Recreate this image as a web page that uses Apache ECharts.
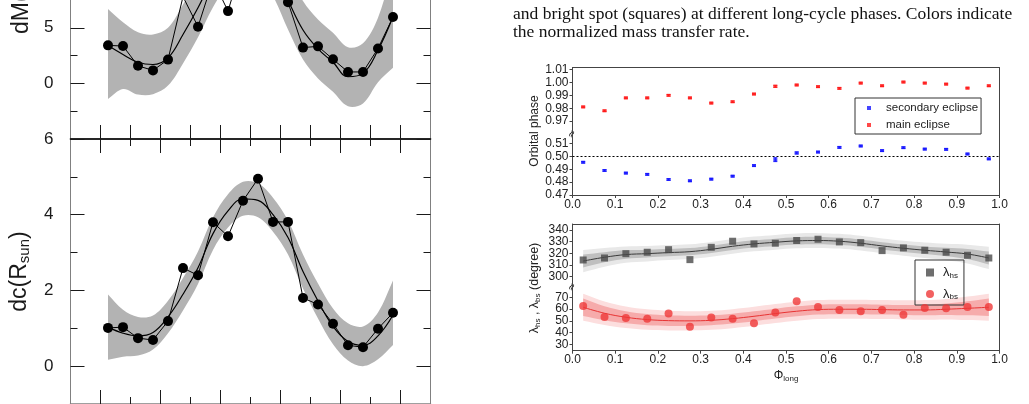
<!DOCTYPE html>
<html>
<head>
<meta charset="utf-8">
<script src="https://cdn.jsdelivr.net/npm/echarts@6/dist/echarts.min.js"></script>
<style>
html, body { margin: 0; padding: 0; background: #fff; }
#main { width: 1029px; height: 404px; }
</style>
</head>
<body>
<div id="main"></div>
<script>
// long-cycle phase bins (shared by all panels)
var phase = [0.025, 0.075, 0.125, 0.175, 0.225, 0.275, 0.325, 0.375, 0.425, 0.475,
             0.525, 0.575, 0.625, 0.675, 0.725, 0.775, 0.825, 0.875, 0.925, 0.975];

// left, upper panel (dM)
var dmPts   = [3.42, 3.36, 1.58, 1.17, 2.14, 7.8, 5.1, 9.3, 6.5, 11.0, 12.5, 10.5, 7.3, 3.22, 3.33, 2.17, 1.03, 1.03, 3.14, 5.97];
var dmFit   = [3.4, 2.6, 1.9, 1.7, 2.3, 4.4, 6.8, 9.5, 11.5, 12.5, 12.5, 10.5, 7.5, 4.8, 3.1, 1.9, 0.6, 0.9, 3.0, 6.0];
var dmUpper = [6.7, 5.5, 4.6, 4.4, 5.0, 7.1, 9.5, 12.2, 14.2, 15.2, 15.2, 13.2, 10.2, 7.4, 5.75, 4.55, 3.25, 3.6, 5.9, 10.5];
var dmLower = [-1.4, -0.5, -1.0, -0.97, -0.2, 1.8, 4.15, 6.85, 8.85, 9.85, 9.85, 7.85, 4.85, 2.15, 0.45, -0.75, -2.05, -1.8, 0.1, 1.4];

// left, lower panel (dc)
var dcPts   = [1.01, 1.03, 0.74, 0.69, 1.19, 2.59, 2.40, 3.80, 3.43, 4.37, 4.95, 3.81, 3.81, 1.80, 1.63, 1.12, 0.55, 0.50, 0.99, 1.41];
var dcFit   = [1.03, 0.87, 0.80, 0.89, 1.30, 1.90, 2.60, 3.50, 4.10, 4.42, 4.38, 4.00, 3.40, 2.50, 1.72, 1.05, 0.65, 0.55, 0.80, 1.35];
var dcUpper = [1.89, 1.49, 1.30, 1.34, 1.73, 2.33, 3.03, 3.93, 4.54, 4.87, 4.83, 4.45, 3.85, 2.95, 2.18, 1.52, 1.13, 1.05, 1.42, 2.26];
var dcLower = [0.17, 0.25, 0.28, 0.44, 0.87, 1.47, 2.17, 3.07, 3.66, 3.97, 3.93, 3.55, 2.95, 2.05, 1.26, 0.58, 0.15, 0.00, 0.18, 0.56];

var leftMajorX = [0, 0.2, 0.4, 0.6, 0.8, 1.0];
var leftMinorX = [0.1, 0.3, 0.5, 0.7, 0.9];
var dmMajor = [0, 5], dmMinor = [-2.5, 2.5];
var dcMajor = [0, 2, 4, 6], dcMinor = [1, 3, 5];

// right, orbital phase of eclipses
var mainEcl = [0.981, 0.978, 0.988, 0.988, 0.990, 0.988, 0.984, 0.985, 0.991, 0.997, 0.998, 0.9967, 0.9954, 0.9995, 0.9974, 1.0003, 0.9995, 0.9987, 0.9956, 0.9974];
var mainErr = [0.0006, 0.0006, 0.0006, 0.0006, 0.0006, 0.0006, 0.0006, 0.0006, 0.0006, 0.0008, 0.0006, 0.0006, 0.0006, 0.0006, 0.0006, 0.0006, 0.0006, 0.0006, 0.0006, 0.0006];
var secEcl  = [0.4954, 0.489, 0.487, 0.486, 0.482, 0.481, 0.4823, 0.4846, 0.4928, 0.4974, 0.5026, 0.5033, 0.5069, 0.508, 0.5044, 0.5067, 0.5056, 0.5054, 0.5018, 0.498];
var secErr  = [0.0006, 0.0006, 0.0006, 0.0006, 0.0006, 0.0006, 0.0006, 0.0006, 0.0006, 0.0015, 0.0008, 0.0006, 0.0006, 0.0006, 0.0006, 0.0006, 0.0006, 0.0006, 0.0006, 0.0006];
var orbUpTicks = [0.97, 0.98, 0.99, 1.00, 1.01];
var orbLoTicks = [0.47, 0.48, 0.49, 0.50, 0.51];
var phiTicks = [0, 0.1, 0.2, 0.3, 0.4, 0.5, 0.6, 0.7, 0.8, 0.9, 1.0];

// right, spot longitudes
var lamHs = [314.3, 316, 319.7, 320.9, 323.1, 314.6, 325.1, 330.3, 328, 328.6, 330.9, 332, 329.7, 329.1, 322.3, 324.6, 322.6, 320.9, 318.3, 316];
var hsFit = [313.4, 316.6, 318.9, 319.7, 320.6, 321.4, 323.4, 326, 328, 329.4, 330.6, 330.9, 330.3, 328.6, 326.3, 324.3, 322.6, 321.1, 319.4, 316];
var hsIn  = [5.5, 4.3, 3.6, 3.3, 3.2, 3.1, 3.1, 3.1, 3.1, 3.1, 3.1, 3.1, 3.1, 3.1, 3.1, 3.2, 3.3, 3.6, 4.3, 5.5];
var hsOut = [9.5, 8, 7, 6.6, 6.4, 6.3, 6.3, 6.3, 6.3, 6.3, 6.3, 6.3, 6.3, 6.3, 6.3, 6.4, 6.6, 7, 8, 9.5];
var lamBs = [62.6, 53.3, 52.4, 51.8, 56.1, 45, 52.7, 51.8, 47.9, 57, 66.6, 61.8, 59.2, 58.1, 59.2, 55.2, 60.9, 60.6, 61.8, 61.8];
var bsFit = [61.5, 56.4, 53, 51, 50.1, 49.9, 50.4, 51.8, 53.8, 56.1, 58.1, 59.5, 59.8, 59.8, 59.5, 59.2, 59.2, 59.8, 60.6, 61.5];
var bsIn  = [7.5, 6, 5.2, 4.8, 4.5, 4.3, 4.2, 4.2, 4.2, 4.2, 4.2, 4.2, 4.2, 4.2, 4.2, 4.3, 4.5, 4.8, 6, 7.5];
var bsOut = [11.5, 10, 9.2, 8.7, 8.4, 8.2, 8.1, 8.1, 8.1, 8.1, 8.1, 8.1, 8.1, 8.1, 8.1, 8.2, 8.4, 8.7, 10, 11.5];
// tick labels split in two sets so none of them gets dropped as overlapping
var hsTicksA = [300, 320, 340], hsTicksB = [310, 330];
var bsTicksA = [30, 50, 70], bsTicksB = [40, 60];

var myChart = echarts.init(document.getElementById('main'));

function pairs(ys) {
    return phase.map(function (p, i) { return [p, ys[i]]; });
}
function addTo(a, b, k) {
    return a.map(function (v, i) { return v + k * b[i]; });
}

// filled band between two edges, drawn once through the axis scale
function band(id, lower, upper, xi, yi, color, z) {
    return {
        type: 'custom', name: id, xAxisIndex: xi, yAxisIndex: yi, silent: true, z: z,
        encode: { x: 0, y: 1 },
        data: [[phase[0], lower[0]]],
        renderItem: function (params, api) {
            var top = phase.map(function (p, i) { return api.coord([p, upper[i]]); });
            var bot = phase.map(function (p, i) { return api.coord([p, lower[i]]); }).reverse();
            // repeat the end points so the closing edges stay straight
            var pts = [top[0]].concat(top, [top[top.length - 1]], [bot[0]], bot, [bot[bot.length - 1]]);
            var cs = params.coordSys;
            return {
                type: 'polygon', shape: { points: pts, smooth: 0.35 },
                style: { fill: color },
                clipPath: { type: 'rect', shape: { x: cs.x, y: cs.y, width: cs.width, height: cs.height } }
            };
        }
    };
}

function errItem(params, api) {
    var x = api.value(0), y = api.value(1), e = api.value(2);
    var a = api.coord([x, y + e]), b = api.coord([x, y - e]);
    var st = { stroke: api.visual('color'), lineWidth: 1 };
    return { type: 'group', children: [
        { type: 'line', shape: { x1: a[0], y1: a[1], x2: b[0], y2: b[1] }, style: st },
        { type: 'line', shape: { x1: a[0] - 2, y1: a[1], x2: a[0] + 2, y2: a[1] }, style: st },
        { type: 'line', shape: { x1: b[0] - 2, y1: b[1], x2: b[0] + 2, y2: b[1] }, style: st }
    ] };
}

var gray = '#808080', dark = '#1a1a1a', frame = '#444';
var sub = { s: { fontSize: 8, padding: [6, 0, 0, 0] } };

// left panel x axes
function lx(grid, pos, ticks, len, lineColor) {
    return {
        type: 'value', gridIndex: grid, position: pos, min: -0.1, max: 1.1,
        axisLine: { show: !!lineColor, onZero: false, lineStyle: { color: lineColor || '#000', width: 1.5 } },
        axisTick: { show: true, inside: true, length: len, customValues: ticks, lineStyle: { color: dark, width: 1 } },
        axisLabel: { show: false }, splitLine: { show: false }
    };
}
// left panel y axes
function ly(grid, pos, min, max, ticks, len, showLine, labels) {
    return {
        type: 'value', gridIndex: grid, position: pos, min: min, max: max,
        axisLine: { show: showLine, onZero: false, lineStyle: { color: gray, width: 1 } },
        axisTick: { show: true, inside: true, length: len, customValues: ticks, lineStyle: { color: dark, width: 1 } },
        axisLabel: labels ? { show: true, customValues: ticks, fontSize: 17, color: dark, margin: 17,
            showMinLabel: true, showMaxLabel: true } : { show: false },
        splitLine: { show: false }
    };
}
// right panel axes
function rx(grid, pos, withLabels) {
    return {
        type: 'value', gridIndex: grid, position: pos, min: 0, max: 1,
        axisLine: { show: true, onZero: false, lineStyle: { color: frame, width: 1 } },
        axisTick: { show: withLabels, length: 3, customValues: phiTicks, lineStyle: { color: frame } },
        axisLabel: withLabels ? { show: true, customValues: phiTicks, fontSize: 12, color: '#222', margin: 4,
            showMinLabel: true, showMaxLabel: true,
            formatter: function (v) { return v.toFixed(1); } } : { show: false },
        splitLine: { show: false }
    };
}
function ry(grid, pos, min, max, ticks, digits, noLine) {
    return {
        type: 'value', gridIndex: grid, position: pos, min: min, max: max,
        axisLine: { show: !noLine, onZero: false, lineStyle: { color: frame, width: 1 } },
        axisTick: { show: !!ticks, length: 3, customValues: ticks || [], lineStyle: { color: frame } },
        axisLabel: ticks ? { show: true, customValues: ticks, fontSize: 12, color: '#222', margin: 4,
            showMinLabel: true, showMaxLabel: true, hideOverlap: false,
            formatter: function (v) { return v.toFixed(digits); } } : { show: false },
        splitLine: { show: false }
    };
}

var xAxes = [
    lx(0, 'bottom', leftMajorX.concat(leftMinorX), 14, dark),  // 0
    lx(1, 'top', leftMajorX, 14, dark),                        // 1
    lx(1, 'top', leftMinorX, 7, null),                         // 2
    lx(1, 'bottom', leftMajorX, 14, gray),                     // 3
    lx(1, 'bottom', leftMinorX, 7, null),                      // 4
    rx(2, 'top', false),                                       // 5
    rx(3, 'bottom', true),                                     // 6
    rx(4, 'top', false),                                       // 7
    rx(5, 'bottom', true)                                      // 8
];
xAxes[8].name = '\u03a6{s|long}';
xAxes[8].nameLocation = 'middle';
xAxes[8].nameGap = 18;
xAxes[8].nameTextStyle = { fontSize: 12, color: '#222', rich: { s: { fontSize: 8, padding: [6, 0, 0, 0] } } };
xAxes[8].axisLabel.margin = 3;

var yAxes = [
    ly(0, 'left', -5, 7.5, dmMajor, 14, true, true),    // 0
    ly(0, 'left', -5, 7.5, dmMinor, 7, false, false),   // 1
    ly(0, 'right', -5, 7.5, dmMajor, 14, true, false),  // 2
    ly(0, 'right', -5, 7.5, dmMinor, 7, false, false),  // 3
    ly(1, 'left', -1, 6, dcMajor, 14, true, true),      // 4
    ly(1, 'left', -1, 6, dcMinor, 7, false, false),     // 5
    ly(1, 'right', -1, 6, dcMajor, 14, true, false),    // 6
    ly(1, 'right', -1, 6, dcMinor, 7, false, false),    // 7
    ry(2, 'left', 0.96, 1.0115, orbUpTicks, 2),         // 8
    ry(2, 'right', 0.96, 1.0115, null),                 // 9
    ry(3, 'left', 0.47, 0.5173, orbLoTicks, 2),         // 10
    ry(3, 'right', 0.47, 0.5173, null),                 // 11
    ry(4, 'left', 291.5, 345, hsTicksA, 0),             // 12
    ry(4, 'right', 291.5, 345, null),                   // 13
    ry(5, 'left', 24.5, 79, bsTicksA, 0),               // 14
    ry(5, 'right', 24.5, 79, null),                     // 15
    ry(4, 'left', 291.5, 345, hsTicksB, 0, true),       // 16
    ry(5, 'left', 24.5, 79, bsTicksB, 0, true)          // 17
];
yAxes[4].name = 'dc(R{s|sun})';
yAxes[4].nameLocation = 'middle';
yAxes[4].nameRotate = 90;
yAxes[4].nameGap = 38;
yAxes[4].nameTextStyle = { fontSize: 23, color: dark, rich: { s: { fontSize: 15, padding: [10, 0, 0, 0] } } };

var series = [];
series.push(band('dmBand', dmLower, dmUpper, 0, 0, '#b3b3b3', 1));
series.push({ type: 'line', name: 'dmFit', data: pairs(dmFit), xAxisIndex: 0, yAxisIndex: 0, smooth: 0.4,
    symbol: 'none', lineStyle: { color: '#000', width: 1.2 }, z: 3 });
series.push({ type: 'line', name: 'dM', data: pairs(dmPts), xAxisIndex: 0, yAxisIndex: 0,
    symbol: 'circle', symbolSize: 10, itemStyle: { color: '#000' }, lineStyle: { color: '#000', width: 1 }, z: 4 });

series.push(band('dcBand', dcLower, dcUpper, 1, 4, '#b3b3b3', 1));
series.push({ type: 'line', name: 'dcFit', data: pairs(dcFit), xAxisIndex: 1, yAxisIndex: 4, smooth: 0.4,
    symbol: 'none', lineStyle: { color: '#000', width: 1.2 }, z: 3 });
series.push({ type: 'line', name: 'dc', data: pairs(dcPts), xAxisIndex: 1, yAxisIndex: 4,
    symbol: 'circle', symbolSize: 10, itemStyle: { color: '#000' }, lineStyle: { color: '#000', width: 1 }, z: 4 });

// eclipses
series.push({ type: 'scatter', name: 'secondary eclipse', data: pairs(secEcl), xAxisIndex: 6, yAxisIndex: 10,
    symbol: 'rect', symbolSize: [4, 3], itemStyle: { color: '#1515ff' }, z: 4,
    markLine: { silent: true, symbol: 'none', label: { show: false },
        lineStyle: { color: '#000', type: [2, 2], width: 1 }, data: [{ yAxis: 0.5 }] } });
series.push({ type: 'custom', name: 'secErr', xAxisIndex: 6, yAxisIndex: 10, renderItem: errItem,
    itemStyle: { color: '#1515ff' }, encode: { x: 0, y: 1 }, z: 3,
    data: phase.map(function (p, i) { return [p, secEcl[i], secErr[i]]; }) });
series.push({ type: 'scatter', name: 'main eclipse', data: pairs(mainEcl), xAxisIndex: 5, yAxisIndex: 8,
    symbol: 'rect', symbolSize: [4, 3], itemStyle: { color: '#ff1a1a' }, z: 4 });
series.push({ type: 'custom', name: 'mainErr', xAxisIndex: 5, yAxisIndex: 8, renderItem: errItem,
    itemStyle: { color: '#ff1a1a' }, encode: { x: 0, y: 1 }, z: 3,
    data: phase.map(function (p, i) { return [p, mainEcl[i], mainErr[i]]; }) });

// spot longitudes: outer and inner confidence bands, fit, points
series.push(band('hsOuter', addTo(hsFit, hsOut, -1), addTo(hsFit, hsOut, 1), 7, 12, '#e8e8e8', 1));
series.push(band('hsInner', addTo(hsFit, hsIn, -1), addTo(hsFit, hsIn, 1), 7, 12, '#bfbfbf', 2));
series.push({ type: 'line', name: 'hsFit', data: pairs(hsFit), xAxisIndex: 7, yAxisIndex: 12, smooth: 0.4,
    symbol: 'none', lineStyle: { color: '#3a3a3a', width: 1 }, z: 3 });
series.push({ type: 'scatter', name: '\u03bbhs', data: pairs(lamHs), xAxisIndex: 7, yAxisIndex: 12,
    symbol: 'rect', symbolSize: 7, itemStyle: { color: '#4a4a4a' }, z: 4 });
series.push(band('bsOuter', addTo(bsFit, bsOut, -1), addTo(bsFit, bsOut, 1), 8, 14, '#fcdede', 1));
series.push(band('bsInner', addTo(bsFit, bsIn, -1), addTo(bsFit, bsIn, 1), 8, 14, '#f6abab', 2));
series.push({ type: 'line', name: 'bsFit', data: pairs(bsFit), xAxisIndex: 8, yAxisIndex: 14, smooth: 0.4,
    symbol: 'none', lineStyle: { color: '#e83434', width: 1 }, z: 3 });
series.push({ type: 'scatter', name: '\u03bbbs', data: pairs(lamBs), xAxisIndex: 8, yAxisIndex: 14,
    symbol: 'circle', symbolSize: 8, itemStyle: { color: '#ef3838' }, z: 4 });

var option = {
    animation: false,
    textStyle: { fontFamily: 'Liberation Sans, Arial, sans-serif' },
    grid: [
        { left: 70.5, top: -8.5, width: 360, height: 147.5, containLabel: false },
        { left: 70.5, top: 139, width: 360, height: 268, containLabel: false },
        { left: 572.5, top: 67.6, width: 427, height: 66.4, containLabel: false },
        { left: 572.5, top: 134, width: 427, height: 61, containLabel: false },
        { left: 572.5, top: 224, width: 427, height: 62.7, containLabel: false },
        { left: 572.5, top: 286.7, width: 427, height: 64, containLabel: false }
    ],
    xAxis: xAxes,
    yAxis: yAxes,
    legend: [{
        data: ['secondary eclipse', 'main eclipse'], left: 855, top: 98, orient: 'vertical',
        itemWidth: 4, itemHeight: 4, itemGap: 5, padding: [4, 3, 3, 12],
        borderColor: '#333', borderWidth: 1, borderRadius: 0,
        textStyle: { fontSize: 11.5, color: '#222', padding: [0, 0, 0, 10] }
    }, {
        data: ['\u03bbhs', '\u03bbbs'], left: 915, top: 260, orient: 'vertical',
        itemWidth: 8, itemHeight: 8, itemGap: 8, padding: [6, 6, 4, 11],
        borderColor: '#333', borderWidth: 1, borderRadius: 0,
        formatter: function (n) { return '\u03bb{s|' + n.slice(1) + '}'; },
        textStyle: { fontSize: 13, color: '#222', padding: [0, 0, 0, 4], rich: { s: { fontSize: 8, padding: [6, 0, 0, 0] } } }
    }],
    graphic: [
        { type: 'text', x: 513, y: 14, style: { text: 'and bright spot (squares) at different long-cycle phases. Colors indicate',
            font: '17.5px "Liberation Serif"', fill: '#111', verticalAlign: 'middle' } },
        { type: 'text', x: 513, y: 32, style: { text: 'the normalized mass transfer rate.',
            font: '17.5px "Liberation Serif"', fill: '#111', verticalAlign: 'middle' } },
        { type: 'text', x: 22, y: 34, rotation: Math.PI / 2, style: { text: 'dM(10\u207b\u00b9\u2070 M\u2609 yr\u207b\u00b9)',
            font: '23px "Liberation Sans"', fill: dark, align: 'left', verticalAlign: 'middle' } },
        { type: 'text', x: 535, y: 131, rotation: Math.PI / 2, style: { text: 'Orbital phase',
            font: '12px "Liberation Sans"', fill: '#222', align: 'center', verticalAlign: 'middle' } },
        { type: 'text', x: 535, y: 288, rotation: Math.PI / 2, style: { text: '\u03bb{s|hs} , \u03bb{s|bs} (degree)',
            font: '12.5px "Liberation Sans"', fill: '#222', align: 'center', verticalAlign: 'middle', rich: sub } },
        { type: 'text', x: 572, y: 134, rotation: Math.PI / 3, style: { text: '\u2248',
            font: '10px "DejaVu Sans"', fill: '#222', align: 'center', verticalAlign: 'middle' } },
        { type: 'text', x: 572, y: 287, rotation: Math.PI / 3, style: { text: '\u2248',
            font: '10px "DejaVu Sans"', fill: '#222', align: 'center', verticalAlign: 'middle' } }
    ],
    series: series
};

if (option && typeof option === "object") {
    myChart.setOption(option);
}
</script>
</body>
</html>
